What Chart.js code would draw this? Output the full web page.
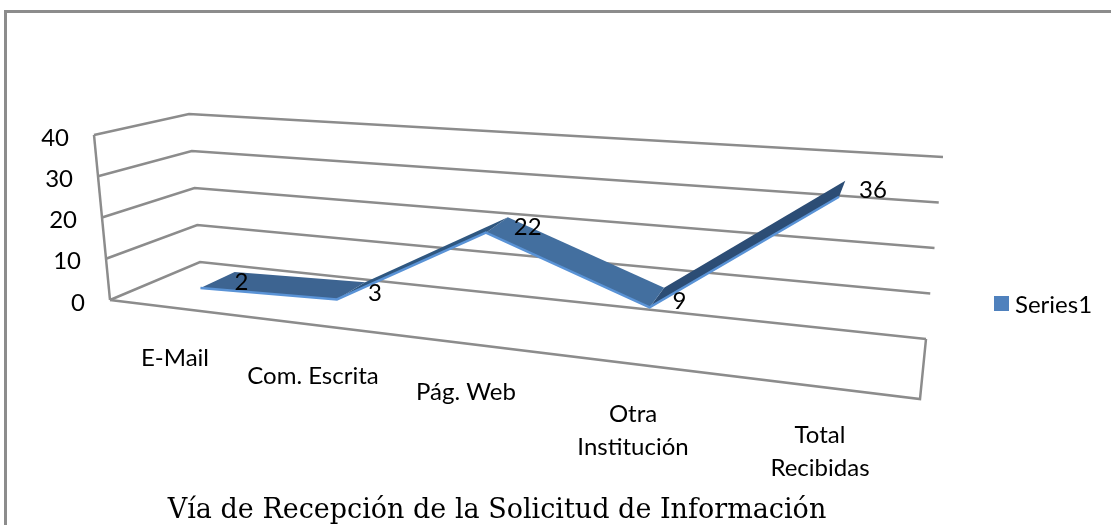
<!DOCTYPE html>
<html>
<head>
<meta charset="utf-8">
<title>Vía de Recepción de la Solicitud de Información</title>
<script src="https://cdn.jsdelivr.net/npm/chart.js@4"></script>
<style>
  html, body { margin: 0; padding: 0; background: #fff; overflow: hidden; }
  #frame { position: absolute; left: 4px; top: 10px; right: 0; bottom: 0; border-left: 3px solid #8c8c8c; border-top: 3px solid #8c8c8c; }
  #chart { position: absolute; left: 0; top: 0; }
</style>
</head>
<body>
<div id="frame"></div>
<canvas id="chart" width="1111" height="525"></canvas>
<script>
const categories = [['E-Mail'], ['Com. Escrita'], ['Pág. Web'], ['Otra', 'Institución'], ['Total', 'Recibidas']];
const seriesValues = [2, 3, 22, 9, 36];
const seriesName = 'Series1';
const yTicks = [0, 10, 20, 30, 40];
const chartTitle = 'Vía de Recepción de la Solicitud de Información';

const yMax = 40;
const perspective = 0.8;
const ribbonFront = 0.3;
const ribbonBack = 0.71;

// corners of the 3D box on the page: [left/right][front/back][bottom/top]
const box = {
  lfb: [110, 300], lft: [94, 135], lbb: [200, 262], lbt: [189, 114],
  rfb: [920, 399], rft: [939, 196], rbb: [926, 339], rbt: [943, 157]
};

const mix = (a, b, t) => [a[0] + (b[0] - a[0]) * t, a[1] + (b[1] - a[1]) * t];

// u: 0..1 along the categories, value: axis value, d: 0 front .. 1 back
function project(u, value, d) {
  const w = u * perspective / (1 + u * (perspective - 1));
  const v = value / yMax;
  const left = mix(mix(box.lfb, box.lbb, d), mix(box.lft, box.lbt, d), v);
  const right = mix(mix(box.rfb, box.rbb, d), mix(box.rft, box.rbt, d), v);
  const p = mix(left, right, w);
  return { x: p[0], y: p[1] };
}

const catU = i => (i + 0.5) / categories.length;

const gridColor = '#8c8c8c';
const polyline = (data, color, width) => ({
  data, borderColor: color, borderWidth: width, showLine: true, pointRadius: 0, fill: false, tension: 0
});

// ribbon faces, one per pair of categories
const faceColors = ['#3d6491', '#2f5780', '#436f9f', '#2c4d75'];
const ribbonFaces = faceColors.map((color, i) => ({
  data: [
    project(catU(i), seriesValues[i], ribbonFront),
    project(catU(i), seriesValues[i], ribbonBack),
    project(catU(i + 1), seriesValues[i + 1], ribbonBack),
    project(catU(i + 1), seriesValues[i + 1], ribbonFront)
  ],
  showLine: true, pointRadius: 0, borderWidth: 0, borderColor: color,
  backgroundColor: color, fill: 'shape', tension: 0
}));
const ribbonEdge = polyline(seriesValues.map((v, i) => project(catU(i), v, ribbonFront)), '#5a93d6', 2.5);

const gridLines = yTicks.map(t => polyline([project(0, t, 0), project(0, t, 1), project(1, t, 1)], gridColor, 2.5));
const floorLine = polyline([project(0, 0, 0), project(1, 0, 0), project(1, 0, 1)], gridColor, 2.5);
const axisLine = polyline([project(0, 0, 0), project(0, yMax, 0)], gridColor, 2.5);

const textPlugin = {
  id: 'labels3d',
  afterDatasetsDraw(chart) {
    const { ctx, scales: { x, y } } = chart;
    ctx.save();
    ctx.fillStyle = '#000';
    ctx.font = '24px Lato';
    ctx.textBaseline = 'middle';

    ctx.textAlign = 'right';
    yTicks.forEach(t => {
      const p = project(0, t, 0);
      ctx.fillText(String(t), x.getPixelForValue(p.x) - 25, y.getPixelForValue(p.y) + 3);
    });

    ctx.textAlign = 'center';
    const labelPos = [[175, 358], [313, 376], [466, 392], [633, 414], [820, 435]];
    categories.forEach((lines, i) => {
      lines.forEach((line, n) => {
        ctx.fillText(line, labelPos[i][0], labelPos[i][1] + n * 33);
      });
    });

    ctx.textAlign = 'left';
    seriesValues.forEach((v, i) => {
      const p = project(catU(i), v, ribbonFront);
      const dx = [34, 31, 28, 23, 20][i];
      const dy = [-6, -6, -5, -6, -6][i];
      ctx.fillText(String(v), x.getPixelForValue(p.x) + dx, y.getPixelForValue(p.y) + dy);
    });

    ctx.fillStyle = '#4f81bd';
    ctx.fillRect(994, 296, 15, 15);
    ctx.fillStyle = '#000';
    ctx.fillText(seriesName, 1015, 305);

    ctx.font = '27px "DejaVu Serif"';
    ctx.textAlign = 'center';
    ctx.fillText(chartTitle, 497, 511);
    ctx.restore();
  }
};

new Chart(document.getElementById('chart').getContext('2d'), {
  type: 'scatter',
  data: {
    datasets: [ribbonEdge].concat(ribbonFaces, [axisLine, floorLine], gridLines)
  },
  options: {
    responsive: false,
    animation: false,
    layout: { padding: 0 },
    plugins: { legend: { display: false }, title: { display: false }, tooltip: { enabled: false } },
    scales: {
      x: { type: 'linear', min: 0, max: 1111, display: false },
      y: { type: 'linear', min: 0, max: 525, reverse: true, display: false }
    }
  },
  plugins: [textPlugin]
});
</script>
</body>
</html>
